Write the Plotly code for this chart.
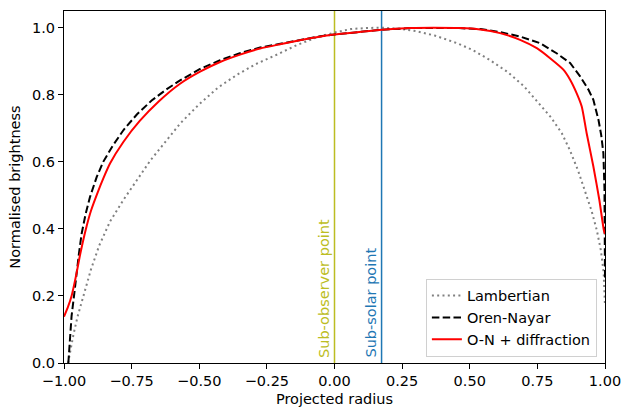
import plotly.graph_objects as go

# ---- data ----
lam_x = [-0.985, -0.978, -0.965, -0.95, -0.93, -0.90, -0.87, -0.83, -0.78, -0.73, -0.68, -0.63,
         -0.57, -0.50, -0.43, -0.36, -0.29, -0.21, -0.14, -0.07, 0.0, 0.06, 0.12, 0.18, 0.24,
         0.30, 0.37, 0.45, 0.51, 0.57, 0.64, 0.70, 0.75, 0.80, 0.84, 0.87, 0.90, 0.93, 0.95,
         0.97, 0.985, 0.995, 1.0]
lam_y = [0.0, 0.032, 0.085, 0.138, 0.197, 0.28, 0.35, 0.422, 0.487, 0.548, 0.605, 0.655,
         0.715, 0.772, 0.822, 0.860, 0.892, 0.921, 0.948, 0.970, 0.986, 0.996, 0.9995, 1.0, 0.997,
         0.990, 0.977, 0.955, 0.934, 0.906, 0.868, 0.826, 0.778, 0.733, 0.686, 0.635, 0.575, 0.505, 0.455,
         0.395, 0.335, 0.27, 0.17]

on_x = [-0.984, -0.978, -0.972, -0.963, -0.955, -0.945, -0.935, -0.92, -0.904, -0.879, -0.855,
        -0.82, -0.78, -0.73, -0.676, -0.62, -0.571, -0.497, -0.423, -0.35, -0.275, -0.20, -0.128,
        -0.05, 0.0, 0.1, 0.174, 0.28, 0.37, 0.46, 0.54, 0.612, 0.686, 0.76, 0.821, 0.871, 0.908,
        0.939, 0.957, 0.976, 0.986, 0.994, 0.998, 1.0]
on_y = [0.0, 0.07, 0.14, 0.20, 0.26, 0.325, 0.385, 0.445, 0.495, 0.555, 0.60,
        0.648, 0.695, 0.742, 0.783, 0.817, 0.843, 0.877, 0.903, 0.924, 0.941, 0.953, 0.964,
        0.975, 0.980, 0.989, 0.994, 0.999, 1.0, 0.999, 0.996, 0.987, 0.974, 0.954, 0.924, 0.895, 0.855,
        0.815, 0.785, 0.725, 0.68, 0.626, 0.52, 0.25]

red_x = [-1.0, -0.985, -0.972, -0.955, -0.94, -0.919, -0.90, -0.875, -0.855, -0.83, -0.78,
         -0.72, -0.65, -0.571, -0.497, -0.423, -0.349, -0.275, -0.201, -0.128, -0.05, 0.0, 0.1,
         0.174, 0.279, 0.365, 0.464, 0.538, 0.612, 0.686, 0.748, 0.797, 0.846, 0.871, 0.895,
         0.914, 0.932, 0.957, 0.979, 0.996, 1.0]
red_y = [0.138, 0.168, 0.20, 0.262, 0.325, 0.40, 0.455, 0.51, 0.55, 0.595, 0.66,
         0.722, 0.780, 0.833, 0.869, 0.898, 0.920, 0.938, 0.951, 0.963, 0.974, 0.980, 0.988,
         0.994, 0.999, 1.0, 0.999, 0.995, 0.984, 0.964, 0.939, 0.909, 0.875, 0.845, 0.805,
         0.765, 0.686, 0.586, 0.487, 0.395, 0.385]

marker_x = [0.0, 0.174]
marker_labels = ["Sub-observer point", "Sub-solar point"]
marker_colors = ["#bcbd22", "#1f77b4"]

x_ticks = [-1.0, -0.75, -0.5, -0.25, 0.0, 0.25, 0.5, 0.75, 1.0]
y_ticks = [0.0, 0.2, 0.4, 0.6, 0.8, 1.0]

FONT = "DejaVu Sans"
FS = 14.5

fig = go.Figure()
fig.add_trace(go.Scatter(x=lam_x, y=lam_y, mode="lines", name="Lambertian",
                         line=dict(color="#808080", width=2, dash="2px,3.3px")))
fig.add_trace(go.Scatter(x=on_x, y=on_y, mode="lines", name="Oren-Nayar",
                         line=dict(color="black", width=2, dash="7.5px,3.3px")))
fig.add_trace(go.Scatter(x=red_x, y=red_y, mode="lines", name="O-N + diffraction",
                         line=dict(color="red", width=2, shape="spline", smoothing=0.6)))

for xv, lab, col in zip(marker_x, marker_labels, marker_colors):
    fig.add_vline(x=xv, line=dict(color=col, width=1.5), layer="below")
    fig.add_annotation(x=xv, y=0, xref="x", yref="y", text=lab, textangle=-90,
                       showarrow=False, xanchor="right", yanchor="bottom",
                       xshift=-1, yshift=3, font=dict(family=FONT, size=FS, color=col))

axis_common = dict(showline=True, mirror=True, linecolor="black", linewidth=1,
                   ticks="outside", ticklen=5, tickwidth=1, tickcolor="black",
                   showgrid=False, zeroline=False, automargin=False,
                   tickfont=dict(family=FONT, size=FS, color="black"))

fig.update_xaxes(range=[-1.0, 1.0], tickvals=x_ticks, tickformat=".2f",
                 title=dict(text="Projected radius", font=dict(family=FONT, size=FS, color="black"),
                            standoff=6), **axis_common)
fig.update_yaxes(range=[0.0, 1.05], tickvals=y_ticks, tickformat=".1f",
                 title=dict(text="Normalised brightness", font=dict(family=FONT, size=FS, color="black"),
                            standoff=7), **axis_common)

fig.update_layout(
    width=624, height=407,
    margin=dict(l=64, r=19, t=11, b=44),
    plot_bgcolor="white", paper_bgcolor="white",
    font=dict(family=FONT, size=FS, color="black"),
    legend=dict(x=0.985, y=0.018, xanchor="right", yanchor="bottom",
                bgcolor="rgba(255,255,255,0.8)", bordercolor="#d0d0d0", borderwidth=1,
                font=dict(family=FONT, size=FS, color="black"), tracegroupgap=0),
)

fig.write_html("out.html")
